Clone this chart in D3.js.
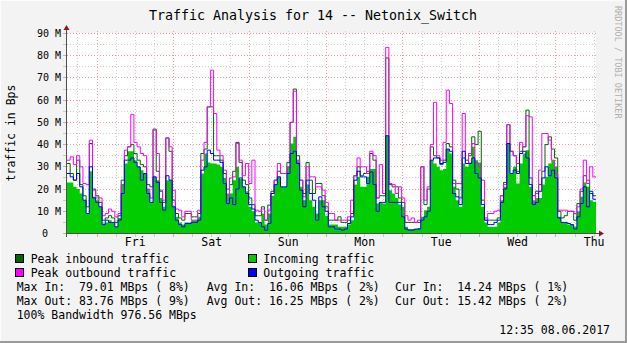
<!DOCTYPE html>
<html>
<head>
<meta charset="utf-8">
<script src="https://cdn.jsdelivr.net/npm/d3@7"></script>
<style>
html,body{margin:0;padding:0;background:#f3f3f3;}
svg{display:block;}
text{font-family:"DejaVu Sans Mono",monospace;white-space:pre;}
</style>
</head>
<body>
<svg id="chart" width="627" height="343"></svg>
<script>
// ---- data (MBps, 1-hour steps from Thu 01.06.2017 14:35) ----
const incoming = [
23,23,21,20,18,15,9,28,16.5,15, 12,4.5,5,6,5,3,7,22,31.5,37,
37,33,30,28.5,27,20,14,25.5,24,16, 12,24,24,12,7.5,5,4,5,5,6,
6,7.5,27,36,32,31.5,31.5,31,30,25, 18,18,24,30,24.5,21,19,12,10,5,
5,9,4,9,17,22,25.5,21,21,30, 40.5,43.5,33,21,15,22,15,12,9,15,
15,8,4,4,4,3,3,3,4,6, 22,25.5,21,21,25.5,29,29,13.5,14,13.5,
44,19.5,18,16,13,12,3,2,2,2, 2.5,7.5,10.5,12,33,31.5,30,28.5,29,38,
36,21,15,12,31.5,30,32,39,33,32, 12,5,3,3,3,5,15,21,40.5,27,
30,22.5,31.5,36,37.5,21,15,16,16,22, 25.5,31.5,33,30,7.5,5,5,4,4,3,
10,16.5,23,21,15,14.24];
const outgoing = [
27,25.5,24,27,21,15,9,30,16,14, 12,4,6,5,5,3,6,18,33,33,
34,32,30,24,27,18,14,25.5,23,14, 10.5,26,24,12,6,4,3,4.5,4.5,5,
5,6,28.5,30,37.5,36,33,33,32,22.5, 13.5,16,13,20,25,21,18,13,11,6,
5,3,1.5,4.5,18,22,25.5,21,21,27, 36,37,31.5,19.5,12,24,18,15,6,16.5,
12,10,3,3,2,2,1.5,2,4.5,7.5, 24,28,25.5,25.5,22.5,27.7,22,10,14,14,
44,14,14,14,14,7.5,2,1.5,1.5,2, 2,6,7.5,10,33,34,34,31.5,32,38,
37,18,16.5,13,37,31.5,31.5,34,27,25, 13,6,4,4,5,6,14,20,40.5,27,
28.5,27,36,37,34,22,13,14,19,25, 30,26,28.5,25,7,5,5,4.5,4,2,
7.5,13.5,21,12,19,15.42];
const peakIn = [
31.5,27,24,33,22,17,12,40.5,20,17, 14,6,7,8,7,5,8,24,35,39,
40,36,33,31,30,22,21,47,28,19, 14,43,37,15,9,7,6,9,9,7.5,
7.5,9,36,38,57,57,35,35,33,27, 20,22,28,41,32,24,22,16,13,8,
8,12,6,12.8,19,24,28,27,27,32, 50,65,35,24,18,32,24,18,22.5,22.5,
17,12,6,6,6,7.5,5,5,6,9, 26,30,26,27,28,36,33,16,17,17,
79.01,22,21,21,16,14,5,5,5,5, 5,30,13,20,39,35,34,31,33,40.5,
39,24,20,16,34,33,35,43.5,40,46, 15,7,6,6,6,7,17,23,49,37,
35,28,37,39,55.5,25,17,19,22,28, 40,43.5,38,34,10,7,8,10,10,6,
13.5,19,26,24,18,17];
const peakOut = [
33,34.5,31,35,30,22.5,22,42,19.5,16, 16,8,9,11,10,7.5,9,22,37.5,39,
53.5,41,39,36,35,20,16,46.5,36,19.5, 15,43,39,19.5,11,10.5,7.5,10,10,6,
6,10.5,33,41,57,73.5,54,37.5,35,28.5, 15,25,25.5,40.5,33,26,31.5,22.5,33,10.5,
10,11,6,10.5,18,24,31.5,27,27,30, 50,64,33,24,16.5,30,25.5,25.5,21,21,
19.5,14,9,9,6,6,6,6,7.5,15, 26,34,30,30,27,37,35,16,31,18,
83.76,22.5,22,18,21,16,8,6,7,5, 6,30,15,21,40,59,35,33,41,64.5,
58.5,22.5,22.5,22.5,54,31.5,36,40.5,32,30, 24,6,9,9,10,10.5,17,22,49,37,
35,31.5,41,39,53,52.5,14,18,28.5,45, 45,42,33,27,10.5,10.5,10.5,10,10,9,
12,20,33,22.5,30,25.5];
const yTicks = [0,10,20,30,40,50,60,70,80,90];
const yTickLabels = ["0","10 M","20 M","30 M","40 M","50 M","60 M","70 M","80 M","90 M"];
const dayLabels = ["Fri","Sat","Sun","Mon","Tue","Wed","Thu"];
const legendItems = [
  {label:"Peak inbound traffic", color:"#006600"},
  {label:"Incoming traffic", color:"#00cc00"},
  {label:"Peak outbound traffic", color:"#ff00ff"},
  {label:"Outgoing traffic", color:"#0000ff"}
];
const statsLines = [
  ["Max In:  79.01 MBps ( 8%)","Avg In:  16.06 MBps ( 2%)","Cur In:  14.24 MBps ( 1%)"],
  ["Max Out: 83.76 MBps ( 9%)","Avg Out: 16.25 MBps ( 2%)","Cur Out: 15.42 MBps ( 2%)"]
];
const bandwidthLine = "100% Bandwidth 976.56 MBps";
const dateLine = "12:35 08.06.2017";
const titleText = "Traffic Analysis for 14 -- Netonix_Switch";

// ---- layout ----
const startT = new Date(2017,5,1,14,35);
const endT = new Date(2017,5,8,12,35);
const stepMs = 3600*1000;
const svg = d3.select("#chart");
const x = d3.scaleTime().domain([startT,endT]).range([67,596]);
const y = d3.scaleLinear().domain([0,90]).range([233.5,33.5]);
const py = v => Math.round(y(v)-0.5)+0.5;
const px = t => Math.round(x(t)-0.5)+0.5;

// background + frame
svg.append("rect").attr("x",0).attr("y",0).attr("width",627).attr("height",343).attr("fill","#f3f3f3");
svg.append("line").attr("x1",0.5).attr("y1",0).attr("x2",0.5).attr("y2",343).attr("stroke","#fcfcfc");
svg.append("line").attr("x1",0).attr("y1",0.5).attr("x2",627).attr("y2",0.5).attr("stroke","#fcfcfc");
svg.append("rect").attr("x",625).attr("y",0).attr("width",2).attr("height",343).attr("fill","#9a9a9a");
svg.append("rect").attr("x",0).attr("y",341).attr("width",627).attr("height",2).attr("fill","#9a9a9a");

// plot bg
svg.append("rect").attr("x",67).attr("y",33).attr("width",529).attr("height",201).attr("fill","#ffffff");

// grid
const g = svg.append("g");
d3.range(5,91,10).forEach(v=>{
  g.append("line").attr("x1",67).attr("x2",598).attr("y1",py(v)).attr("y2",py(v))
   .attr("stroke","#cfcfcf").attr("stroke-dasharray","1,2");
});
yTicks.filter(v=>v>0).forEach(v=>{
  g.append("line").attr("x1",67).attr("x2",598).attr("y1",py(v)).attr("y2",py(v))
   .attr("stroke","#e8a0a0").attr("stroke-dasharray","1,2");
});
const minorX = d3.timeHour.every(6).range(startT,endT).filter(t=>t.getHours()!==0);
const majorX = d3.timeDay.range(startT,endT);
minorX.forEach(t=>{
  g.append("line").attr("x1",px(t)).attr("x2",px(t)).attr("y1",31).attr("y2",233)
   .attr("stroke","#cfcfcf").attr("stroke-dasharray","1,2");
  g.append("line").attr("x1",px(t)).attr("x2",px(t)).attr("y1",234).attr("y2",237).attr("stroke","#c8c8c8");
});
majorX.forEach(t=>{
  g.append("line").attr("x1",px(t)).attr("x2",px(t)).attr("y1",31).attr("y2",233)
   .attr("stroke","#e8a0a0").attr("stroke-dasharray","1,2");
  g.append("line").attr("x1",px(t)).attr("x2",px(t)).attr("y1",234).attr("y2",237).attr("stroke","#e8a0a0");
});

// data
const times = incoming.map((d,i)=>new Date(startT.getTime()+i*stepMs));
function pts(arr){ const p = arr.map((v,i)=>[x(times[i]),y(v)]); p.push([x(endT),y(arr[arr.length-1])]); return p; }
const area = d3.area().x(d=>d[0]).y0(y(0)).y1(d=>d[1]).curve(d3.curveStepAfter);
const line = d3.line().x(d=>d[0]).y(d=>d[1]).curve(d3.curveStepAfter);
svg.append("path").attr("d",area(pts(incoming))).attr("fill","#00cc00");
svg.append("path").attr("d",line(pts(peakIn))).attr("fill","none").attr("stroke","#006600").attr("stroke-width",1);
svg.append("path").attr("d",line(pts(peakOut))).attr("fill","none").attr("stroke","#ff00ff").attr("stroke-width",1);
svg.append("path").attr("d",line(pts(outgoing))).attr("fill","none").attr("stroke","#0000ff").attr("stroke-width",1);

// axes
svg.append("line").attr("x1",63).attr("x2",599).attr("y1",233.5).attr("y2",233.5).attr("stroke","#505050");
svg.append("line").attr("x1",66.5).attr("x2",66.5).attr("y1",237).attr("y2",30).attr("stroke","#505050");
svg.append("path").attr("d","M599,230.5 L604,233.5 L599,236.5 Z").attr("fill","#8b1a1a");
svg.append("path").attr("d","M63.5,30 L66.5,25 L69.5,30 Z").attr("fill","#8b1a1a");
d3.range(0,91,5).forEach(v=>{
  svg.append("line").attr("x1",63).attr("x2",66).attr("y1",py(v)).attr("y2",py(v)).attr("stroke", v%10===0 ? "#e8a0a0" : "#c8c8c8");
});

// y labels
yTicks.forEach((v,i)=>{
  svg.append("text").attr("x", v===0 ? 48 : 61).attr("y",y(v)+3.5).attr("text-anchor","end")
   .attr("font-size","10px").attr("fill","#000").text(yTickLabels[i]);
});
// day labels at noon
const noons = d3.timeDay.range(new Date(2017,5,2),new Date(2017,5,9)).map(d=>new Date(d.getTime()+12*3600*1000));
noons.forEach((t,i)=>{
  svg.append("text").attr("x",x(t)).attr("y",246).attr("text-anchor","middle")
   .attr("font-size","11.5px").attr("fill","#000").text(dayLabels[i]);
});

// title
svg.append("text").attr("x",313).attr("y",20).attr("text-anchor","middle").attr("font-size","13.3px").attr("fill","#000").text(titleText);
// y axis title
svg.append("text").attr("transform","translate(15,133) rotate(-90)").attr("text-anchor","middle").attr("font-size","11.5px").attr("fill","#000").text("traffic in Bps");
// watermark
svg.append("text").attr("transform","translate(615,6) rotate(90)").attr("text-anchor","start").attr("font-size","8.5px").attr("fill","#b0b0b0").text("RRDTOOL / TOBI OETIKER");

// legend
const legPos = [[15.5,254.5,30.7,263],[248.5,254.5,263.3,263],[15.5,268.5,30.7,277],[248.5,268.5,263.3,277]];
legendItems.forEach((d,i)=>{
  const p = legPos[i];
  svg.append("rect").attr("x",p[0]).attr("y",p[1]).attr("width",8).attr("height",8).attr("fill",d.color).attr("stroke","#000");
  svg.append("text").attr("x",p[2]).attr("y",p[3]).attr("font-size","11.5px").attr("fill","#000").text(d.label);
});
const colX = [16.7,206.7,395];
statsLines.forEach((row,r)=>{
  row.forEach((s,c)=>{
    svg.append("text").attr("x",colX[c]).attr("y",291+r*14.3).attr("font-size","11.5px").attr("fill","#000").text(s);
  });
});
svg.append("text").attr("x",16.7).attr("y",319).attr("font-size","11.5px").attr("fill","#000").text(bandwidthLine);
svg.append("text").attr("x",610).attr("y",333.5).attr("text-anchor","end").attr("font-size","11.5px").attr("fill","#000").text(dateLine);
</script>
</body>
</html>
